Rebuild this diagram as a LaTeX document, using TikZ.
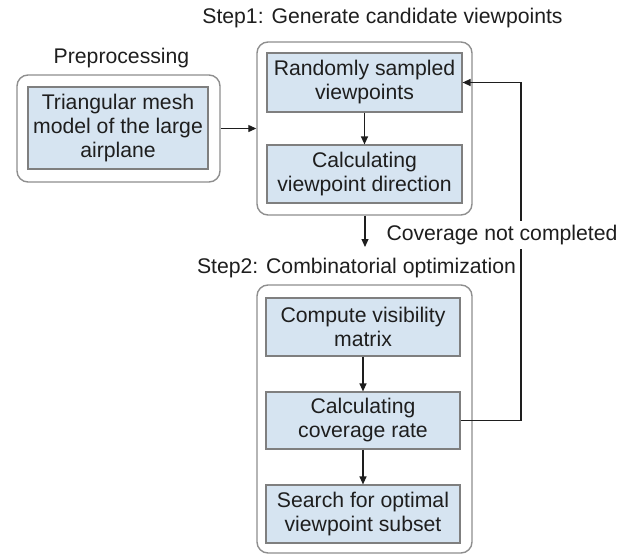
\documentclass[tikz,border=0pt]{standalone}
\usepackage{fontspec}
\setmainfont{Liberation Sans}
\usetikzlibrary{arrows.meta,positioning}
\definecolor{boxfill}{HTML}{D6E4F1}
\definecolor{boxline}{HTML}{7F7F7F}
\definecolor{outerline}{HTML}{8E8E8E}
\definecolor{ink}{HTML}{1E1E1E}
\begin{document}
\begin{tikzpicture}[x=1pt,y=-1pt,
  every node/.style={font=\fontsize{21.2}{24}\selectfont, text=ink},
  innerbox/.style={draw=boxline, fill=boxfill, line width=1.2pt, align=center, inner sep=0pt},
  outerbox/.style={draw=outerline, line width=1.4pt, rounded corners=11pt, fill=none},
  title/.style={inner sep=0pt},
  conn/.style={draw=ink, line width=1.2pt, -{Triangle[length=8pt,width=7pt]}},
  line/.style={draw=ink, line width=1.2pt}]
\useasboundingbox (0,0) rectangle (633,555);
% outer boxes
\node[outerbox, minimum width=203pt, minimum height=107pt] (preo) at (118.5,128.5) {};
\node[outerbox, minimum width=215pt, minimum height=173pt] (s1o) at (364.5,128.5) {};
\node[outerbox, minimum width=215pt, minimum height=268pt] (s2o) at (364.5,419) {};
% titles
\node[title] (pret) at (121.5,58) {Preprocessing};
\node[title] (s1t) at (382.5,18) {Step1: Generate candidate viewpoints};
\node[title] (s2t) at (356.5,268) {Step2: Combinatorial optimization};
% inner boxes
\node[innerbox, minimum width=180pt, minimum height=82pt] (mesh) at (118,128) {Triangular mesh\\model of the large\\airplane};
\node[innerbox, minimum width=195pt, minimum height=59pt] (rand) at (364.5,82.5) {Randomly sampled\\viewpoints};
\node[innerbox, minimum width=195pt, minimum height=58pt] (dir) at (364.5,174) {Calculating\\viewpoint direction};
\node[innerbox, minimum width=194pt, minimum height=58pt] (vis) at (363,327) {Compute visibility\\matrix};
\node[innerbox, minimum width=194pt, minimum height=57pt] (cov) at (363,420.5) {Calculating\\coverage rate};
\node[innerbox, minimum width=194pt, minimum height=58pt] (opt) at (363,514) {Search for optimal\\viewpoint subset};
% connectors
\draw[conn] (preo.east) -- (s1o.west);
\draw[conn] (rand) -- (dir);
\draw[conn] (vis) -- (cov);
\draw[conn] (cov) -- (opt);
\coordinate (s2in) at (365,247);
\draw[conn] (s1o.south -| s2in) -- (s2in);
\coordinate (fbB) at (521,420.5);
\coordinate (fbT) at (521,82.5);
\draw[conn] (cov.east) -- (fbB) -- (fbT) -- (rand.east);
\node[title, fill=white, inner xsep=1pt, inner ysep=4pt] (lab) at (502,235) {Coverage not completed};
\end{tikzpicture}
\end{document}
